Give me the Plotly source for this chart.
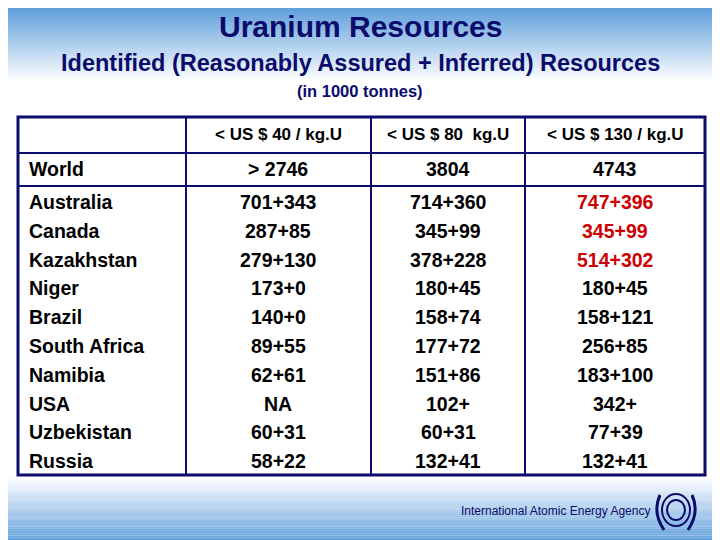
import plotly.graph_objects as go

# 表格数据
columns = ["< US $ 40 / kg.U", "< US $ 80  kg.U", "< US $ 130 / kg.U"]
world = ["> 2746", "3804", "4743"]
countries = ["Australia", "Canada", "Kazakhstan", "Niger", "Brazil", "South Africa",
             "Namibia", "USA", "Uzbekistan", "Russia"]
usd40 = ["701+343", "287+85", "279+130", "173+0", "140+0", "89+55", "62+61", "NA", "60+31", "58+22"]
usd80 = ["714+360", "345+99", "378+228", "180+45", "158+74", "177+72", "151+86", "102+", "60+31", "132+41"]
usd130 = ["747+396", "345+99", "514+302", "180+45", "158+121", "256+85", "183+100", "342+", "77+39", "132+41"]
red_rows_130 = [0, 1, 2]

NAVY = "#0b0b6b"
FONT = "Liberation Sans, Arial"

fig = go.Figure()

# 背景渐变（顶部和底部）
n = 40
for i in range(n):
    t = i / n
    c = f"rgb({int(80 + 175 * t)},{int(150 + 105 * t)},{int(215 + 40 * t)})"
    fig.add_shape(type="rect", x0=0, x1=730, y0=i * 2, y1=i * 2 + 2.2, line_width=0, fillcolor=c, layer="below")
    fig.add_shape(type="rect", x0=0, x1=730, y0=550 - i * 1.8 - 2, y1=550 - i * 1.8, line_width=0, fillcolor=c, layer="below")

# 表格边框
fig.add_shape(type="rect", x0=18, x1=705, y0=117, y1=475, line=dict(color=NAVY, width=3))
for x in [186, 371, 525]:
    fig.add_shape(type="line", x0=x, x1=x, y0=117, y1=475, line=dict(color=NAVY, width=2))
for y in [153, 186]:
    fig.add_shape(type="line", x0=18, x1=705, y0=y, y1=y, line=dict(color=NAVY, width=2))

col_x = [278, 448, 615]

def txt(x, y, s, size=19, color="black", anchor="center", bold=True):
    fig.add_annotation(x=x, y=y, text=f"<b>{s}</b>" if bold else s, showarrow=False,
                       xanchor=anchor, font=dict(family=FONT, size=size, color=color))

txt(360, 26, "Uranium Resources", size=30, color=NAVY)
txt(360, 63, "Identified (Reasonably Assured + Inferred) Resources", size=23.5, color=NAVY)
txt(360, 91, "(in 1000 tonnes)", size=16.5, color=NAVY)

for x, c in zip(col_x, columns):
    txt(x, 134, c, size=17)
txt(27, 169, "World", anchor="left", size=19.5)
for x, w in zip(col_x, world):
    txt(x, 169, w, size=19.5)

for i, name in enumerate(countries):
    y = 202 + i * 28.8
    txt(27, y, name, anchor="left", size=19.5)
    txt(col_x[0], y, usd40[i], size=19.5)
    txt(col_x[1], y, usd80[i], size=19.5)
    txt(col_x[2], y, usd130[i], size=19.5, color="#cc0000" if i in red_rows_130 else "black")

# 页脚
txt(652, 511, "International Atomic Energy Agency", size=12, color=NAVY, anchor="right", bold=False)
fig.add_shape(type="circle", x0=662, x1=690, y0=494, y1=526, line=dict(color=NAVY, width=2))
fig.add_shape(type="circle", x0=667, x1=685, y0=500, y1=520, line=dict(color=NAVY, width=2))
fig.add_shape(type="path", path="M 660 495 Q 652 512 664 530", line=dict(color=NAVY, width=3))
fig.add_shape(type="path", path="M 692 495 Q 700 512 688 530", line=dict(color=NAVY, width=3))

# 浏览器 body 有 8px 边距，坐标范围整体平移
fig.update_xaxes(range=[8, 728], visible=False)
fig.update_yaxes(range=[548, 8], visible=False)
fig.update_layout(width=720, height=540, margin=dict(l=0, r=0, t=0, b=0),
                  paper_bgcolor="white", plot_bgcolor="white", showlegend=False)
fig.write_html("out.html")
